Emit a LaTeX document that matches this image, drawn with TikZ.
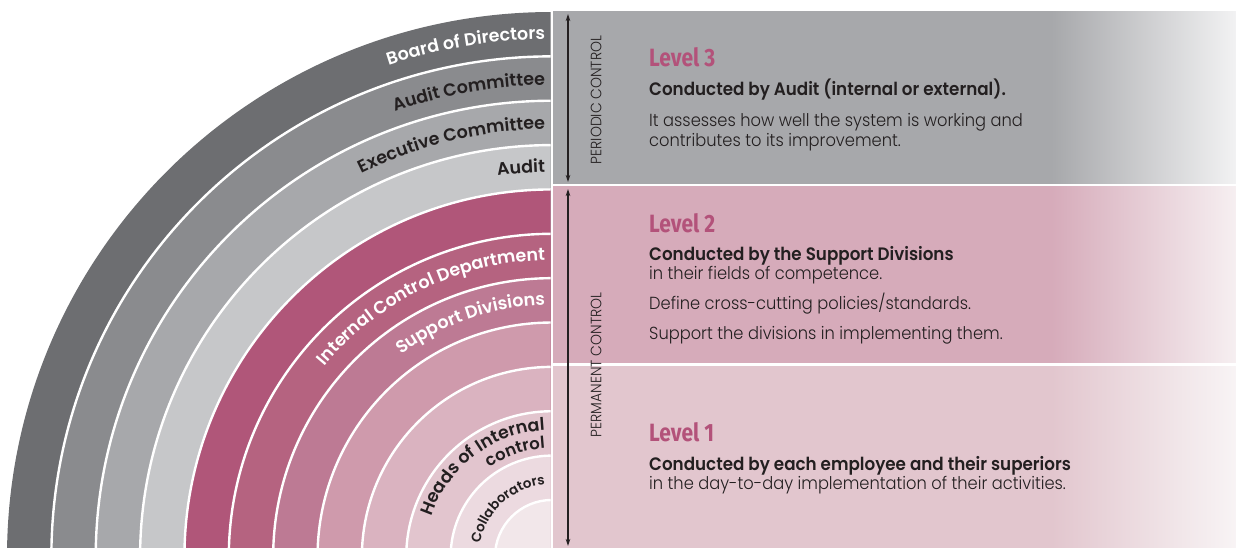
\documentclass[tikz,border=0pt]{standalone}
\usepackage{fontspec}
\setmainfont{Poppins}[FakeStretch=0.93, UprightFont=* Light, BoldFont=* SemiBold]
\newfontfamily\ringfont{Poppins}[BoldFont=* SemiBold]
\newfontfamily\levelfont{Fira Sans}[FakeStretch=0.84]
\usetikzlibrary{arrows.meta,decorations.text}

\definecolor{board}{HTML}{6D6E71}
\definecolor{auditcom}{HTML}{8A8B8E}
\definecolor{execom}{HTML}{A7A8AB}
\definecolor{audit}{HTML}{C6C7C9}
\definecolor{icdark}{HTML}{B05679}
\definecolor{icd}{HTML}{B56380}
\definecolor{supdiv}{HTML}{BD7A94}
\definecolor{pinkd}{HTML}{CF9AAC}
\definecolor{pinke}{HTML}{DAB3C0}
\definecolor{heads}{HTML}{E2C5CE}
\definecolor{collab}{HTML}{ECDAE0}
\definecolor{inner}{HTML}{F2E7EA}
\definecolor{lvthree}{HTML}{A7A8AB}
\definecolor{lvthreefade}{HTML}{F2F2F3}
\definecolor{lvtwo}{HTML}{D6ABBA}
\definecolor{lvtwofade}{HTML}{F6EFF1}
\definecolor{lvone}{HTML}{E2C6CE}
\definecolor{lvonefade}{HTML}{F8F4F5}
\definecolor{ink}{HTML}{231F20}
\definecolor{levelpink}{HTML}{B3527A}

% solid on the left, fading out over the last quarter
\pgfdeclarehorizontalshading{lvthreeshade}{100bp}{color(0bp)=(lvthree); color(61.5bp)=(lvthree);
  color(75bp)=(lvthreefade); color(100bp)=(lvthreefade)}
\pgfdeclarehorizontalshading{lvtwoshade}{100bp}{color(0bp)=(lvtwo); color(61.5bp)=(lvtwo);
  color(75bp)=(lvtwofade); color(100bp)=(lvtwofade)}
\pgfdeclarehorizontalshading{lvoneshade}{100bp}{color(0bp)=(lvone); color(61.5bp)=(lvone);
  color(75bp)=(lvonefade); color(100bp)=(lvonefade)}

\begin{document}
\begin{tikzpicture}[
  x=1pt, y=1pt,
  ring/.style={draw=white, line width=2.4pt},
  arclab/.style={decorate, decoration={text along path, text align=right, text={#1}}},
  head/.style={anchor=base west, inner sep=0pt, text=levelpink,
    font=\levelfont\bfseries\fontsize{25}{25}\selectfont},
  lead/.style={anchor=base west, inner sep=0pt, text=ink,
    font=\bfseries\fontsize{18}{20}\selectfont},
  body/.style={anchor=base west, inner sep=0pt, text=ink,
    font=\fontsize{17.5}{20}\selectfont},
  ctrl/.style={rotate=90, inner sep=0pt, text=ink,
    font=\fontsize{15}{15}\selectfont},
  span/.style={{Stealth[length=7pt,width=4.5pt]}-{Stealth[length=7pt,width=4.5pt]},
    line width=1.3pt, draw=ink}
  ]

  \useasboundingbox (0,0) rectangle (1236,547);
  \coordinate (ctr) at (552,-10);

  % concentric rings, clipped to the left half
  \begin{scope}
    \clip (0,0) rectangle (550.5,547);
    \foreach \c [count=\k from 0] in {board,auditcom,execom,audit,icdark,icd,
                                       supdiv,pinkd,pinke,heads,collab,inner}
      {\pgfmathsetmacro\r{545-44.36*\k}
       \fill[\c] (ctr) circle[radius=\r pt];}
    \foreach \k in {1,...,11}
      {\pgfmathsetmacro\r{545-44.36*\k}
       \draw[ring] (ctr) circle[radius=\r pt];}
  \end{scope}

  % ring labels
  \path[arclab={|\color{white}\ringfont\bfseries\fontsize{17.5}{17.5}\selectfont|Board of Directors}]
    (ctr) ++(170:518pt) arc[start angle=170, end angle=90.77, radius=518pt];
  \path[arclab={|\color{ink}\ringfont\bfseries\fontsize{17.5}{17.5}\selectfont|Audit Committee}]
    (ctr) ++(170:472pt) arc[start angle=170, end angle=90.85, radius=472pt];
  \path[arclab={|\color{ink}\ringfont\bfseries\fontsize{17.5}{17.5}\selectfont|Executive Committee}]
    (ctr) ++(170:428pt) arc[start angle=170, end angle=90.94, radius=428pt];
  \path[arclab={|\color{ink}\ringfont\bfseries\fontsize{17.5}{17.5}\selectfont|Audit}]
    (ctr) ++(170:385pt) arc[start angle=170, end angle=91.04, radius=385pt];
  \path[arclab={|\color{white}\ringfont\bfseries\fontsize{17.5}{17.5}\selectfont|Internal Control Department}]
    (ctr) ++(175:297pt) arc[start angle=175, end angle=91.35, radius=297pt];
  \path[arclab={|\color{white}\ringfont\bfseries\fontsize{17.5}{17.5}\selectfont|Support Divisions}]
    (ctr) ++(175:252pt) arc[start angle=175, end angle=91.59, radius=252pt];
  \path[arclab={|\color{ink}\ringfont\bfseries\fontsize{17.5}{17.5}\selectfont|Heads of Internal}]
    (ctr) ++(178:127pt) arc[start angle=178, end angle=93.16, radius=127pt];
  \path[arclab={|\color{ink}\ringfont\bfseries\fontsize{16.5}{16.5}\selectfont|control}]
    (ctr) ++(178:109pt) arc[start angle=178, end angle=93.65, radius=109pt];
  \path[arclab={|\color{ink}\ringfont\bfseries\fontsize{13.5}{13.5}\selectfont|Collaborators}]
    (ctr) ++(178:73pt) arc[start angle=178, end angle=95.4, radius=73pt];

  % level panels
  \shade[shading=lvthreeshade] (553,363) rectangle (1236,535);
  \shade[shading=lvtwoshade] (553,185) rectangle (1236,360);
  \shade[shading=lvoneshade] (553,0) rectangle (1236,181);

  % control spans
  \coordinate (pctop) at (568,533);
  \coordinate (pcbot) at (568,365);
  \coordinate (pmtop) at (568,358);
  \coordinate (pmbot) at (568,1);
  \draw[span] (pctop) -- (pcbot);
  \draw[span] (pmtop) -- (pmbot);
  \node[ctrl] (pclab) at (596,447) {PERIODIC CONTROL};
  \node[ctrl] (pmlab) at (596,182) {PERMANENT CONTROL};

  % level 3
  \node[head] (l3) at (649,480) {Level 3};
  \node[lead] (l3a) at (649,451) {Conducted by Audit (internal or external).};
  \node[body] (l3b) at (649,420) {It assesses how well the system is working and};
  \node[body] (l3c) at (649,400) {contributes to its improvement.};

  % level 2
  \node[head] (l2) at (649,315) {Level 2};
  \node[lead] (l2a) at (649,287) {Conducted by the Support Divisions};
  \node[body] (l2b) at (649,268) {in their fields of competence.};
  \node[body] (l2c) at (649,238) {Define cross-cutting policies/standards.};
  \node[body] (l2d) at (649,208) {Support the divisions in implementing them.};

  % level 1
  \node[head] (l1) at (649,106) {Level 1};
  \node[lead] (l1a) at (649,77) {Conducted by each employee and their superiors};
  \node[body] (l1b) at (649,58) {in the day-to-day implementation of their activities.};

\end{tikzpicture}
\end{document}
